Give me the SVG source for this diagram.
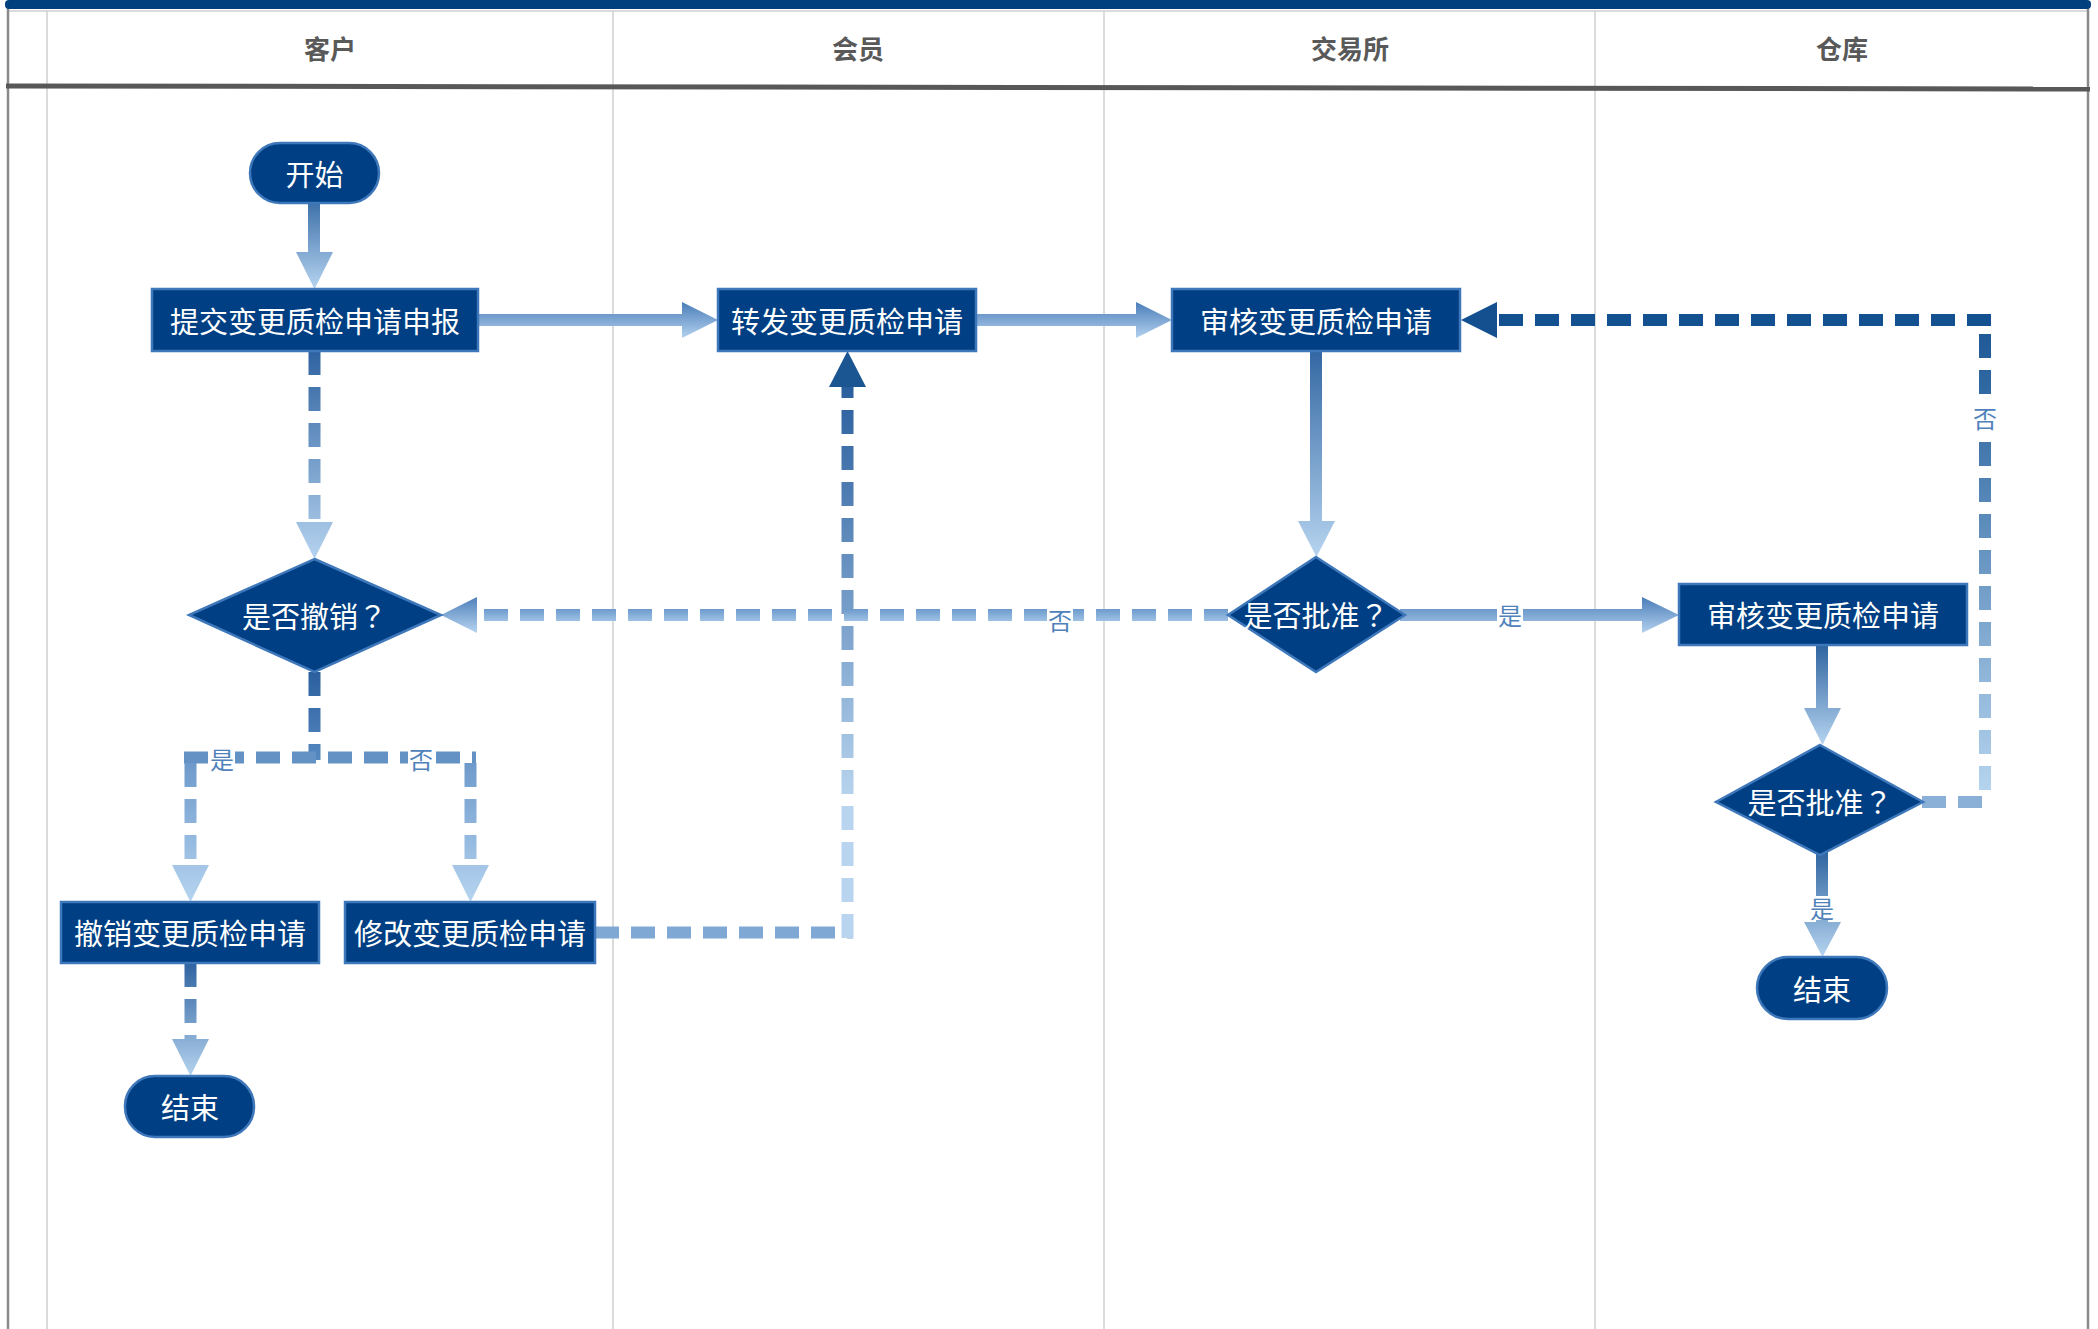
<svg xmlns="http://www.w3.org/2000/svg" width="2098" height="1329" viewBox="0 0 2098 1329">
<defs>
<style>
.lane{stroke:#cfcfcf;stroke-width:1.5;fill:none}
.hdr{font-family:"Noto Sans CJK SC","Noto Sans",sans-serif;font-weight:bold;font-size:26px;fill:#595959;text-anchor:middle;dominant-baseline:central}
.box{fill:#003f83;stroke:#3f78ba;stroke-width:2.5}
.t{font-family:"Noto Sans CJK SC","Noto Sans",sans-serif;font-size:29px;fill:#ffffff;text-anchor:middle;dominant-baseline:central}
.q{font-family:"Noto Sans CJK TC","Noto Sans CJK SC",sans-serif}
.lbl{font-family:"Noto Sans CJK SC","Noto Sans",sans-serif;font-size:24px;fill:#4f82bb;text-anchor:middle;dominant-baseline:central}
.dash{fill:none;stroke-width:12;stroke-dasharray:24 12}
.bg{fill:#ffffff}
</style>
<linearGradient id="gA1" gradientUnits="userSpaceOnUse" x1="0" y1="200" x2="0" y2="289"><stop offset="0" stop-color="#3a6ea8"/><stop offset="1" stop-color="#b6d4f0"/></linearGradient>
<linearGradient id="gH1" gradientUnits="userSpaceOnUse" x1="0" y1="302" x2="0" y2="338"><stop offset="0" stop-color="#4a7db8"/><stop offset="1" stop-color="#b3d1ef"/></linearGradient>
<linearGradient id="gA4" gradientUnits="userSpaceOnUse" x1="0" y1="344" x2="0" y2="557"><stop offset="0" stop-color="#2f64a0"/><stop offset="1" stop-color="#b6d4f0"/></linearGradient>
<linearGradient id="gH5" gradientUnits="userSpaceOnUse" x1="0" y1="597" x2="0" y2="633"><stop offset="0" stop-color="#4a7db8"/><stop offset="1" stop-color="#b3d1ef"/></linearGradient>
<linearGradient id="gA6" gradientUnits="userSpaceOnUse" x1="0" y1="645" x2="0" y2="745"><stop offset="0" stop-color="#2f64a0"/><stop offset="1" stop-color="#b6d4f0"/></linearGradient>
<linearGradient id="gA7" gradientUnits="userSpaceOnUse" x1="0" y1="852" x2="0" y2="957"><stop offset="0" stop-color="#2f64a0"/><stop offset="1" stop-color="#b6d4f0"/></linearGradient>
<linearGradient id="gD1" gradientUnits="userSpaceOnUse" x1="0" y1="351" x2="0" y2="559"><stop offset="0" stop-color="#2e62a0"/><stop offset="1" stop-color="#b5d3ef"/></linearGradient>
<linearGradient id="gD2a" gradientUnits="userSpaceOnUse" x1="0" y1="672" x2="0" y2="760"><stop offset="0" stop-color="#2a5f9e"/><stop offset="1" stop-color="#5688c0"/></linearGradient>
<linearGradient id="gD2b" gradientUnits="userSpaceOnUse" x1="0" y1="757" x2="0" y2="902"><stop offset="0" stop-color="#6a97c9"/><stop offset="1" stop-color="#b6d4f0"/></linearGradient>
<linearGradient id="gD3" gradientUnits="userSpaceOnUse" x1="0" y1="963" x2="0" y2="1076"><stop offset="0" stop-color="#2e62a0"/><stop offset="1" stop-color="#b5d3ef"/></linearGradient>
<linearGradient id="gD4" gradientUnits="userSpaceOnUse" x1="0" y1="387" x2="0" y2="938"><stop offset="0" stop-color="#2a5f9e"/><stop offset="0.75" stop-color="#b8d4ee"/><stop offset="1" stop-color="#b8d4ee"/></linearGradient>
<linearGradient id="gD5" gradientUnits="userSpaceOnUse" x1="0" y1="609" x2="0" y2="621"><stop offset="0" stop-color="#6c9acb"/><stop offset="1" stop-color="#9fc2e5"/></linearGradient>
<linearGradient id="gD5h" gradientUnits="userSpaceOnUse" x1="0" y1="597" x2="0" y2="633"><stop offset="0" stop-color="#4f80ba"/><stop offset="1" stop-color="#b6d4f0"/></linearGradient>
<linearGradient id="gD6" gradientUnits="userSpaceOnUse" x1="0" y1="326" x2="0" y2="800"><stop offset="0" stop-color="#1c5896"/><stop offset="1" stop-color="#b8d6f0"/></linearGradient>
</defs>

<rect x="0" y="0" width="2098" height="1329" fill="#ffffff"/>

<g id="swimlanes">
  <line class="lane" x1="7" y1="11" x2="2088" y2="11" stroke="#bbbbbb"/>
  <line x1="8" y1="8" x2="8" y2="1329" stroke="#8a8a8a" stroke-width="2.5"/>
  <line x1="2088" y1="8" x2="2088" y2="1329" stroke="#8a8a8a" stroke-width="2.5"/>
  <line class="lane" x1="47" y1="11" x2="47" y2="1329"/>
  <line class="lane" x1="613" y1="11" x2="613" y2="1329"/>
  <line class="lane" x1="1104" y1="11" x2="1104" y2="1329"/>
  <line class="lane" x1="1595" y1="11" x2="1595" y2="1329"/>
  <rect x="5" y="0" width="2086" height="9" rx="4" fill="#00407f"/>
  <line x1="6" y1="86" x2="2090" y2="89" stroke="#585858" stroke-width="5"/>
  <text class="hdr" x="330" y="47">客户</text>
  <text class="hdr" x="858" y="47">会员</text>
  <text class="hdr" x="1350" y="47">交易所</text>
  <text class="hdr" x="1842" y="47">仓库</text>
</g>

<g id="connectors">
  <!-- solid arrows -->
  <polygon points="308,200 320,200 320,252 333,252 314.5,289 296,252 308,252" fill="url(#gA1)"/>
  <polygon points="472,314 682,314 682,302 718,320 682,338 682,326 472,326" fill="url(#gH1)"/>
  <polygon points="972,314 1136,314 1136,302 1172,320 1136,338 1136,326 972,326" fill="url(#gH1)"/>
  <polygon points="1310,344 1322,344 1322,521 1335,521 1316.5,557 1298,521 1310,521" fill="url(#gA4)"/>
  <polygon points="1400,609 1642,609 1642,597 1679,615 1642,633 1642,621 1400,621" fill="url(#gH5)"/>
  <polygon points="1816,639 1828,639 1828,708 1841,708 1822.5,745 1804,708 1816,708" fill="url(#gA6)"/>
  <polygon points="1816,850 1828,850 1828,922 1841,922 1822.5,957 1804,922 1816,922" fill="url(#gA7)"/>

  <!-- D1 提交 -> 是否撤销 -->
  <path class="dash" d="M314.5,351 V522" stroke="url(#gD1)"/>
  <polygon points="296,522 333,522 314.5,559" fill="url(#gD1)"/>

  <!-- D2 是否撤销 split -->
  <path class="dash" d="M314.5,672 V760" stroke="url(#gD2a)" stroke-dasharray="20 14"/>
  <path class="dash" d="M184,757.5 H476" stroke="#6592c4" stroke-dasharray="28 11"/>
  <path class="dash" d="M190.5,763 V865" stroke="url(#gD2b)"/>
  <path class="dash" d="M470.5,763 V865" stroke="url(#gD2b)"/>
  <polygon points="172,865 209,865 190.5,902" fill="url(#gD2b)"/>
  <polygon points="452,865 489,865 470.5,902" fill="url(#gD2b)"/>

  <!-- D3 撤销 -> 结束 -->
  <path class="dash" d="M190.5,963 V1039" stroke="url(#gD3)"/>
  <polygon points="172,1039 209,1039 190.5,1076" fill="url(#gD3)"/>

  <!-- D4 修改 -> 转发 -->
  <path class="dash" d="M595,932.5 H853" stroke="#80a8d5"/>
  <path class="dash" d="M847.5,938 V387" stroke="url(#gD4)"/>
  <polygon points="829,387 866,387 847.5,351" fill="#1b5693"/>

  <!-- D5 是否批准 -> 是否撤销 -->
  <path class="dash" d="M1228,615 H477" stroke="url(#gD5)"/>
  <polygon points="477,597 477,633 441,615" fill="url(#gD5h)"/>

  <!-- D6 是否批准(仓库) -> 审核(交易所) -->
  <path class="dash" d="M1922,802 H1991" stroke="#8ab0d8"/>
  <path class="dash" d="M1985,790 V326" stroke="url(#gD6)"/>
  <path class="dash" d="M1991,320 H1497" stroke="#13508f" stroke-dasharray="23 13"/>
  <polygon points="1497,302 1497,338 1461,320" fill="#14508f"/>

  <!-- labels -->
  <rect class="bg" x="1497" y="602" width="26" height="26"/>
  <text class="lbl" x="1510" y="614">是</text>
  <rect class="bg" x="1809" y="896" width="26" height="24"/>
  <text class="lbl" x="1822" y="907">是</text>
  <rect class="bg" x="209" y="745" width="26" height="26"/>
  <text class="lbl" x="222" y="758">是</text>
  <rect class="bg" x="408" y="745" width="26" height="26"/>
  <text class="lbl" x="421" y="758">否</text>
  <rect class="bg" x="1047" y="605" width="26" height="28"/>
  <text class="lbl" x="1060" y="619">否</text>
  <rect class="bg" x="1972" y="404" width="26" height="26"/>
  <text class="lbl" x="1985" y="417">否</text>
</g>

<g id="start">
  <rect class="box" x="250" y="143" width="129" height="60" rx="30"/>
  <text class="t" x="314.5" y="173">开始</text>
</g>
<g id="submit">
  <rect class="box" x="152" y="289" width="326" height="62"/>
  <text class="t" x="315" y="320">提交变更质检申请申报</text>
</g>
<g id="forward">
  <rect class="box" x="718" y="289" width="258" height="62"/>
  <text class="t" x="847" y="320">转发变更质检申请</text>
</g>
<g id="review-exchange">
  <rect class="box" x="1172" y="289" width="288" height="62"/>
  <text class="t" x="1316" y="320">审核变更质检申请</text>
</g>
<g id="decide-cancel">
  <polygon class="box" points="314.5,559 441,615 314.5,672 189,615"/>
  <text class="t" x="314.5" y="615">是否撤销<tspan class="q">？</tspan></text>
</g>
<g id="decide-exchange">
  <polygon class="box" points="1316,557 1405,615 1316,672 1228,615"/>
  <text class="t" x="1316" y="614">是否批准<tspan class="q">？</tspan></text>
</g>
<g id="review-warehouse">
  <rect class="box" x="1679" y="584" width="288" height="61"/>
  <text class="t" x="1823" y="614">审核变更质检申请</text>
</g>
<g id="decide-warehouse">
  <polygon class="box" points="1820,745 1923,802 1820,855 1716,802"/>
  <text class="t" x="1820" y="801">是否批准<tspan class="q">？</tspan></text>
</g>
<g id="end-warehouse">
  <rect class="box" x="1757" y="957" width="130" height="62" rx="31"/>
  <text class="t" x="1822" y="988">结束</text>
</g>
<g id="cancel">
  <rect class="box" x="61" y="902" width="258" height="61"/>
  <text class="t" x="190" y="932">撤销变更质检申请</text>
</g>
<g id="modify">
  <rect class="box" x="345" y="902" width="250" height="61"/>
  <text class="t" x="470" y="932">修改变更质检申请</text>
</g>
<g id="end-customer">
  <rect class="box" x="125" y="1076" width="129" height="61" rx="30"/>
  <text class="t" x="190" y="1106">结束</text>
</g>
</svg>
